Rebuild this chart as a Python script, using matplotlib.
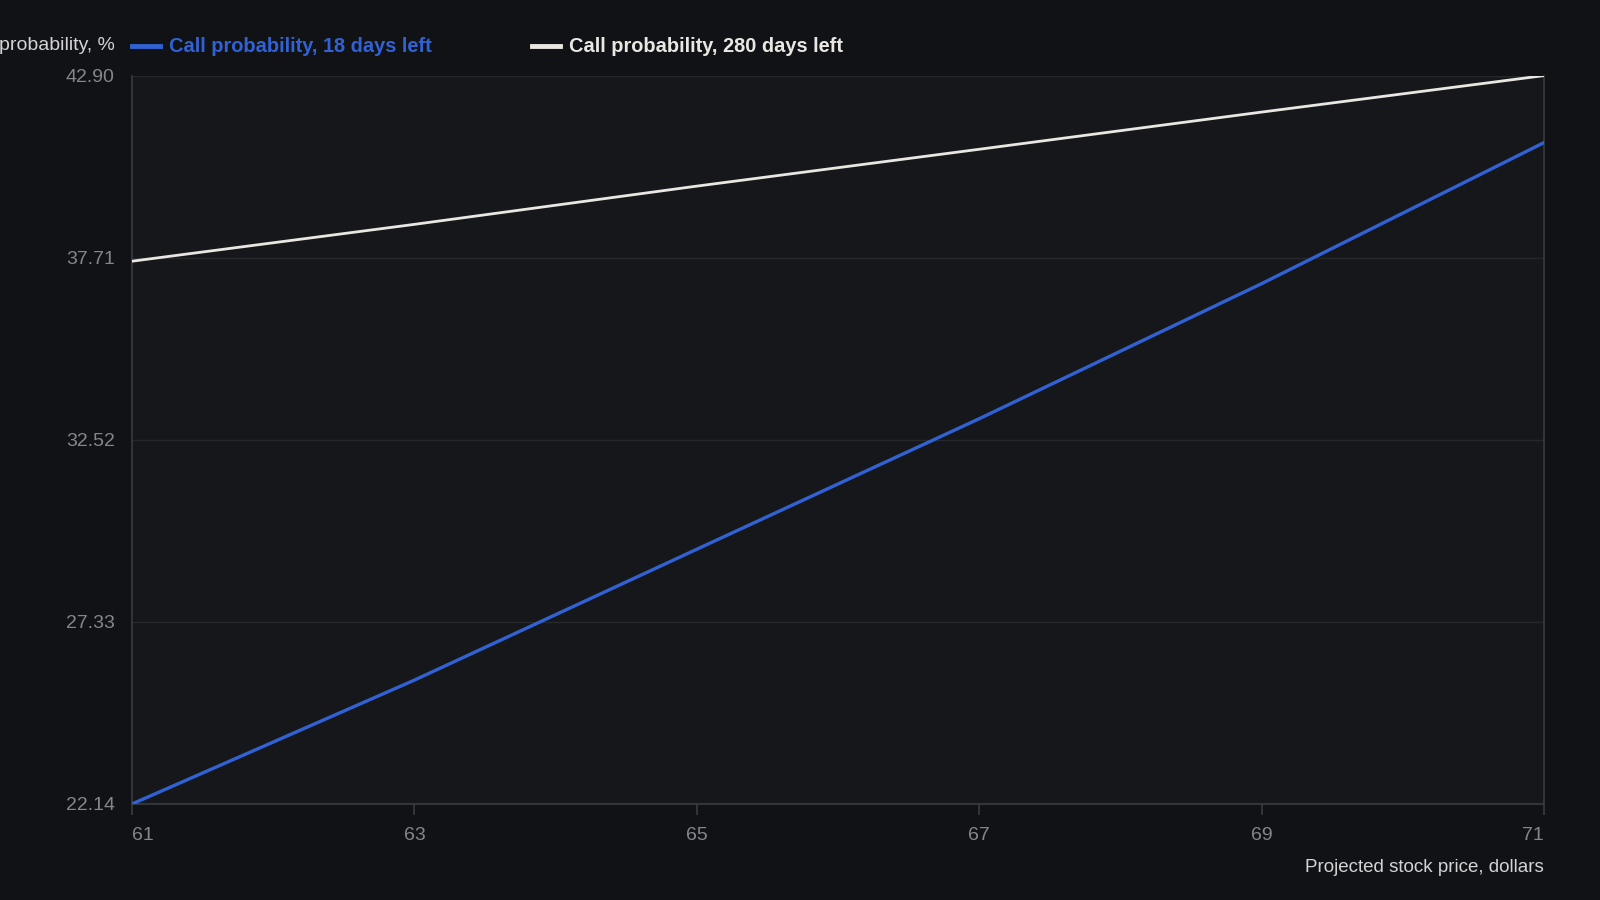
import numpy as np
import matplotlib
matplotlib.use('Agg')
import matplotlib.pyplot as plt
from matplotlib.lines import Line2D

plt.rcParams['font.family'] = ['Liberation Sans', 'DejaVu Sans']

# data
price = [61, 63, 65, 67, 69, 71]
prob_18d = [22.14, 25.67, 29.40, 33.12, 36.97, 40.99]
prob_280d = [37.61, 38.66, 39.75, 40.80, 41.86, 42.90]
x_ticks = [61, 63, 65, 67, 69, 71]

label_18d = 'Call probability, 18 days left'
label_280d = 'Call probability, 280 days left'
y_title = 'probability, %'
x_title = 'Projected stock price, dollars'

BG_FIG = '#111216'
BG_AX = '#16171b'
GRID = '#25272b'
SPINE = '#383b40'
TICK_TXT = '#83868c'
TITLE_TXT = '#d4d4d6'
BLUE = '#3162d4'
WHITE = '#e9e7e2'

fig = plt.figure(figsize=(16, 9), dpi=100)
fig.patch.set_facecolor(BG_FIG)
ax = fig.add_axes([0.0825, 0.1067, 0.8825, 0.8093])
ax.set_facecolor(BG_AX)

ax.plot(price, prob_18d, color=BLUE, lw=2.4, solid_capstyle='round', zorder=3)
ax.plot(price, prob_280d, color=WHITE, lw=2.0, solid_capstyle='round', zorder=3)

lo = min(min(prob_18d), min(prob_280d))
hi = max(max(prob_18d), max(prob_280d))
y_ticks = np.linspace(lo, hi, 5)
ax.set_xlim(price[0], price[-1])
ax.set_ylim(lo, hi)
ax.set_yticks(y_ticks)
ax.set_yticklabels([f'{v:.2f}' for v in y_ticks])
ax.set_xticks(x_ticks)
ax.set_xticklabels([str(v) for v in x_ticks])

ax.grid(axis='y', color=GRID, lw=1.0)
ax.set_axisbelow(True)
for side in ['left', 'bottom', 'right']:
    ax.spines[side].set_color(SPINE)
    ax.spines[side].set_linewidth(1.2)
ax.spines['top'].set_visible(False)

ax.tick_params(axis='y', length=0, pad=12.5, labelsize=14, labelcolor=TICK_TXT)
ax.tick_params(axis='x', length=8, width=1.2, color=SPINE, pad=8.5,
               labelsize=14, labelcolor=TICK_TXT)
xl = ax.get_xticklabels()
xl[0].set_ha('left')
xl[-1].set_ha('right')

# titles
fig.text(115 / 1600, 1 - 45 / 900, y_title, ha='right', va='center',
         fontsize=14, color=TITLE_TXT)
fig.text(1544 / 1600, 1 - 867 / 900, x_title, ha='right', va='center',
         fontsize=13.5, color=TITLE_TXT)

# legend
handles = [Line2D([0], [0], color=BLUE, lw=3.5),
           Line2D([0], [0], color=WHITE, lw=3.5)]
leg = fig.legend(handles, [label_18d, label_280d], ncol=2, frameon=False,
                 loc='center left', bbox_to_anchor=(132 / 1600, 1 - 47 / 900),
                 handlelength=1.4, handletextpad=0.45, columnspacing=5.0,
                 borderaxespad=0, borderpad=0,
                 prop={'weight': 'bold', 'size': 14.4})
for txt, c in zip(leg.get_texts(), [BLUE, WHITE]):
    txt.set_color(c)

fig.savefig('out.png', dpi=100, facecolor=fig.get_facecolor())
